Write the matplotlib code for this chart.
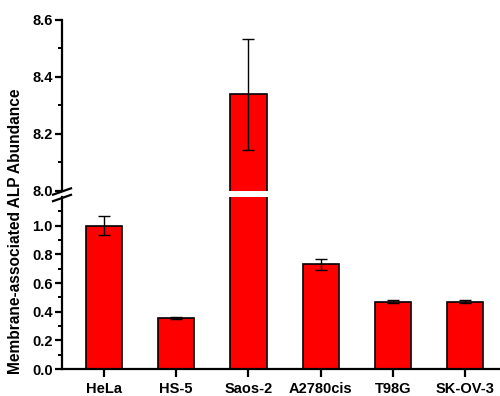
import numpy as np
import matplotlib
matplotlib.use("Agg")
import matplotlib.pyplot as plt
from matplotlib.ticker import FixedLocator

plt.rcParams['font.family'] = ['Liberation Sans', 'DejaVu Sans']
plt.rcParams['font.weight'] = 'bold'

cells = ["HeLa", "HS-5", "Saos-2", "A2780cis", "T98G", "SK-OV-3"]
means = [1.0, 0.355, 8.34, 0.73, 0.47, 0.47]
errs = [0.065, 0.005, 0.195, 0.04, 0.01, 0.01]

low_ticks = [0.0, 0.2, 0.4, 0.6, 0.8, 1.0]
high_ticks = [8.0, 8.2, 8.4, 8.6]

fig = plt.figure(figsize=(5, 3.96), dpi=100)
# broken y axis: two stacked axes sharing the categories
ax_lo = fig.add_axes([0.124, 0.068, 0.876, 0.4343])
ax_hi = fig.add_axes([0.124, 0.5177, 0.876, 0.4318])

x = np.arange(len(cells))
for ax in (ax_lo, ax_hi):
    ax.bar(x, means, width=0.5, color="#ff0000", edgecolor="black", linewidth=1.2, zorder=2)
    ax.errorbar(x, means, yerr=errs, fmt="none", ecolor="black", elinewidth=1,
                capsize=4, capthick=1, zorder=3)
    ax.set_xlim(-0.58, 5.48)
    for s in ("top", "right"):
        ax.spines[s].set_visible(False)
    ax.spines["left"].set_linewidth(1.6)
    ax.tick_params(axis="y", which="major", direction="out", length=5, width=1.6,
                   labelsize=10.5, pad=1.5)
    ax.tick_params(axis="y", which="minor", direction="out", length=3, width=1.4)

ax_lo.set_ylim(0, 1.2)
ax_lo.yaxis.set_major_locator(FixedLocator(low_ticks))
ax_lo.yaxis.set_minor_locator(FixedLocator([0.1, 0.3, 0.5, 0.7, 0.9, 1.1]))
ax_lo.set_yticklabels([f"{t:.1f}" for t in low_ticks])
ax_lo.spines["bottom"].set_linewidth(1.6)
ax_lo.set_xticks(x)
ax_lo.set_xticklabels(cells)
ax_lo.tick_params(axis="x", direction="out", length=6, width=1.6, labelsize=10.5, pad=3.5)

ax_hi.set_ylim(8.0, 8.6)
ax_hi.yaxis.set_major_locator(FixedLocator(high_ticks))
ax_hi.yaxis.set_minor_locator(FixedLocator([8.1, 8.3, 8.5]))
ax_hi.set_yticklabels([f"{t:.1f}" for t in high_ticks])
ax_hi.spines["bottom"].set_visible(False)
ax_hi.set_xticks([])

for lab in ax_lo.get_xticklabels() + ax_lo.get_yticklabels() + ax_hi.get_yticklabels():
    lab.set_fontweight("bold")

# break marks on the y axis
x0 = 0.124
for yb in (1 - 191.5 / 396, 1 - 198 / 396):
    fig.add_artist(plt.Line2D([x0 - 0.018, x0 + 0.018], [yb - 0.008, yb + 0.008],
                              color="black", linewidth=1.6, transform=fig.transFigure))

fig.text(0.031, 0.416, "Membrane-associated ALP Abundance", rotation=90,
         ha="center", va="center", fontsize=11.2, fontweight="bold")

fig.savefig("out.png", dpi=100)
